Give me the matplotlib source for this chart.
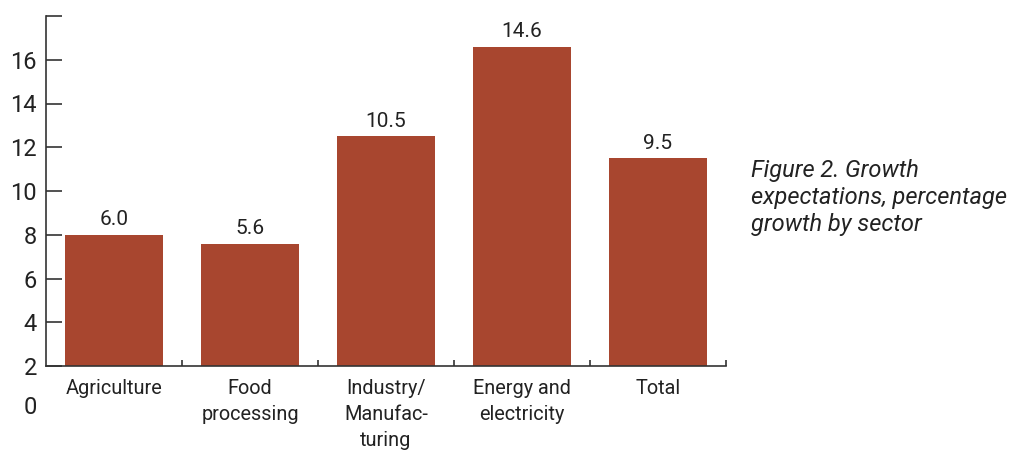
import matplotlib
matplotlib.use("Agg")
import matplotlib.pyplot as plt
from matplotlib.ticker import FixedLocator
from matplotlib.transforms import offset_copy

categories = ["Agriculture", "Food\nprocessing", "Industry/\nManufac-\nturing",
              "Energy and\nelectricity", "Total"]
values = [6.0, 5.6, 10.5, 14.6, 9.5]
value_labels = ["6.0", "5.6", "10.5", "14.6", "9.5"]
ytick_pos = [0, 2, 4, 6, 8, 10, 12, 14, 16]
ytick_labels = ["2", "4", "6", "8", "10", "12", "14", "16", ""]
extra_label = "0"
caption = "Figure 2. Growth\nexpectations, percentage\ngrowth by sector"

bar_color = "#A8462F"
axis_color = "#333333"
text_color = "#222222"
plt.rcParams["font.family"] = ["Roboto", "DejaVu Sans"]

fig = plt.figure(figsize=(10.11, 4.51), dpi=100)
ax = fig.add_axes([46 / 1011, (451 - 366) / 451, 680 / 1011, 350 / 451])

x = list(range(len(categories)))
ax.bar(x, values, width=0.72, color=bar_color, zorder=2)
for xi, v, lab in zip(x, values, value_labels):
    ax.annotate(lab, (xi, v), xytext=(0, 4), textcoords="offset points",
                ha="center", va="bottom", fontsize=15, color=text_color)

ax.set_xlim(-0.5, 4.5)
ax.set_ylim(0, 16)
for s in ["top", "right"]:
    ax.spines[s].set_visible(False)
for s in ["left", "bottom"]:
    ax.spines[s].set_color(axis_color)
    ax.spines[s].set_linewidth(1.2)

ax.set_yticks(ytick_pos)
ax.set_yticklabels(ytick_labels)
ax.tick_params(axis="y", direction="in", length=11.5, width=1.2, color=axis_color,
               labelsize=17, pad=6.5, labelcolor=text_color)
ax.set_xticks(x)
ax.set_xticklabels(categories, linespacing=1.5)
ax.tick_params(axis="x", which="major", length=0, labelsize=14.3, pad=9,
               labelcolor=text_color)
ax.xaxis.set_minor_locator(FixedLocator([0.5, 1.5, 2.5, 3.5, 4.5]))
ax.tick_params(axis="x", which="minor", direction="in", length=4, width=1.2,
               color=axis_color)
for t in ax.get_xticklabels():
    t.set_verticalalignment("top")

ax.text(-0.5, -1.9, extra_label, fontsize=17, ha="right", va="center",
        color=text_color, clip_on=False,
        transform=offset_copy(ax.transData, fig=fig, x=-6.5, y=0, units="points"))

fig.text(751 / 1011, 1 - 159 / 451, caption, fontsize=17, style="italic",
         ha="left", va="top", linespacing=1.23, color=text_color)

fig.savefig("out.png", dpi=100)
